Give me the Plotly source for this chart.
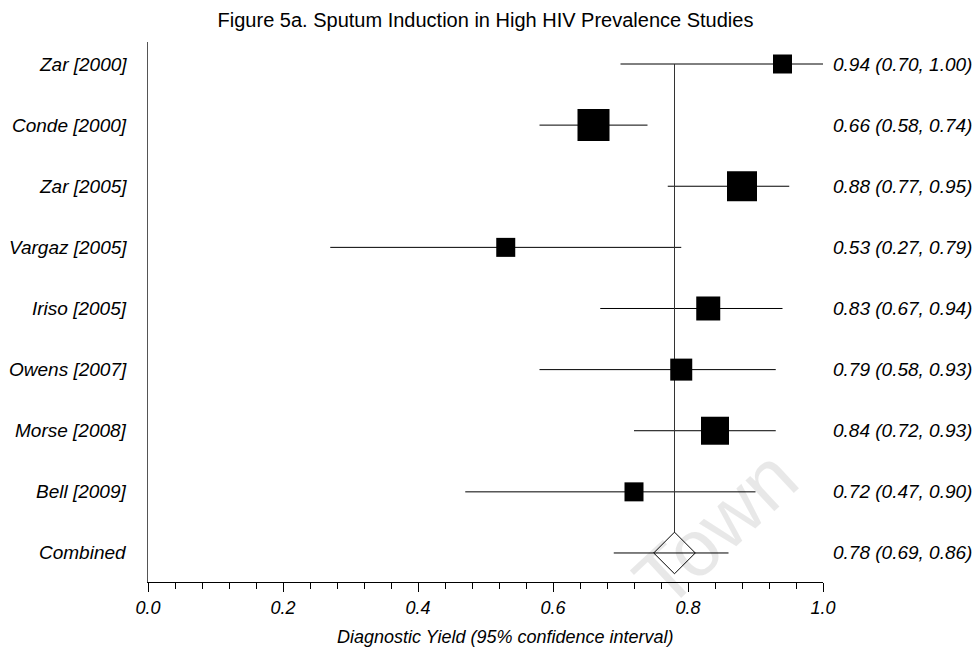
import plotly.graph_objects as go

studies = ["Zar [2000]", "Conde [2000]", "Zar [2005]", "Vargaz [2005]", "Iriso [2005]",
           "Owens [2007]", "Morse [2008]", "Bell [2009]"]
est = [0.94, 0.66, 0.88, 0.53, 0.83, 0.79, 0.84, 0.72]
lo = [0.70, 0.58, 0.77, 0.27, 0.67, 0.58, 0.72, 0.47]
hi = [1.00, 0.74, 0.95, 0.79, 0.94, 0.93, 0.93, 0.90]
box_px = [19, 32, 30, 19, 24, 22, 28, 19]

comb_label = "Combined"
comb_est = 0.78
comb_lo = 0.69
comb_hi = 0.86

x_ticks = [0.0, 0.2, 0.4, 0.6, 0.8, 1.0]

FONT = "Liberation Sans, Arial, sans-serif"
W, H = 978, 651
ML, MR, MT, MB = 148, 155, 42, 69
plot_h = H - MT - MB
n = len(studies) + 1
y_top, y_bot = -0.36, (n - 1) + 0.475
px_per_unit = plot_h / (y_bot - y_top)

fig = go.Figure()

rows = list(range(len(studies)))
comb_row = len(studies)

# CI lines
for i in rows:
    fig.add_trace(go.Scatter(x=[lo[i], hi[i]], y=[i, i], mode="lines",
                             line=dict(color="black", width=1), hoverinfo="skip", showlegend=False))
fig.add_trace(go.Scatter(x=[comb_lo, comb_hi], y=[comb_row, comb_row], mode="lines",
                         line=dict(color="black", width=1), hoverinfo="skip", showlegend=False))

# vertical line at combined estimate down to diamond top
diamond_size = 32
diamond_half = diamond_size * 1.3 / 2 / px_per_unit
fig.add_trace(go.Scatter(x=[comb_est, comb_est], y=[0, comb_row - diamond_half], mode="lines",
                         line=dict(color="#333", width=1), hoverinfo="skip", showlegend=False))

# boxes
fig.add_trace(go.Scatter(x=est, y=rows, mode="markers",
                         marker=dict(symbol="square", size=box_px, color="#000000", opacity=1,
                                     line=dict(width=0)),
                         showlegend=False))
# diamond
fig.add_trace(go.Scatter(x=[comb_est], y=[comb_row], mode="markers",
                         marker=dict(symbol="diamond-open", size=diamond_size, opacity=1,
                                     color="black", line=dict(width=1)),
                         showlegend=False))

labels = studies + [comb_label]
values = [f"{e:.2f} ({l:.2f}, {h:.2f})" for e, l, h in zip(est, lo, hi)] + \
         [f"{comb_est:.2f} ({comb_lo:.2f}, {comb_hi:.2f})"]
for i, (lab, val) in enumerate(zip(labels, values)):
    fig.add_annotation(x=0, xref="paper", y=i, yref="y", text=f"<i>{lab}</i>",
                       xanchor="right", yanchor="middle", xshift=-19, showarrow=False,
                       font=dict(family=FONT, size=19, color="black"))
    fig.add_annotation(x=1, xref="paper", y=i, yref="y", text=f"<i>{val}</i>",
                       xanchor="left", yanchor="middle", xshift=8, showarrow=False,
                       font=dict(family=FONT, size=19, color="black"))

# axis title
fig.add_annotation(x=0.53, xref="paper", y=0, yref="paper", yshift=-55,
                   text="<i>Diagnostic Yield (95% confidence interval)</i>",
                   xanchor="center", yanchor="middle", showarrow=False,
                   font=dict(family=FONT, size=18, color="black"))

# watermark
fig.add_annotation(x=0.84, xref="paper", y=0.1, yref="paper", text="Town",
                   textangle=-43, showarrow=False, xanchor="center", yanchor="middle",
                   font=dict(family=FONT, size=80, color="rgba(0,0,0,0.09)"))

fig.update_layout(
    width=W, height=H,
    margin=dict(l=ML, r=MR, t=MT, b=MB),
    paper_bgcolor="white", plot_bgcolor="white",
    title=dict(text="Figure 5a. Sputum Induction in High HIV Prevalence Studies",
               x=0.5, xref="paper", xanchor="center", y=1 - 20 / H, yanchor="middle",
               font=dict(family=FONT, size=20, color="black")),
    xaxis=dict(range=[0, 1], tickvals=x_ticks,
               ticktext=[f"<i>{t:.1f}</i>" for t in x_ticks],
               ticks="outside", ticklen=9, tickcolor="black", tickwidth=1,
               minor=dict(dtick=0.04, ticks="outside", ticklen=6, tickcolor="black", tickwidth=1),
               showline=True, linecolor="black", linewidth=1, showgrid=False, zeroline=False,
               tickfont=dict(family=FONT, size=18, color="black")),
    yaxis=dict(range=[y_bot, y_top], showticklabels=False, ticks="", showgrid=False,
               zeroline=False, showline=True, linecolor="#555", linewidth=1),
)

fig.write_html("out.html")
